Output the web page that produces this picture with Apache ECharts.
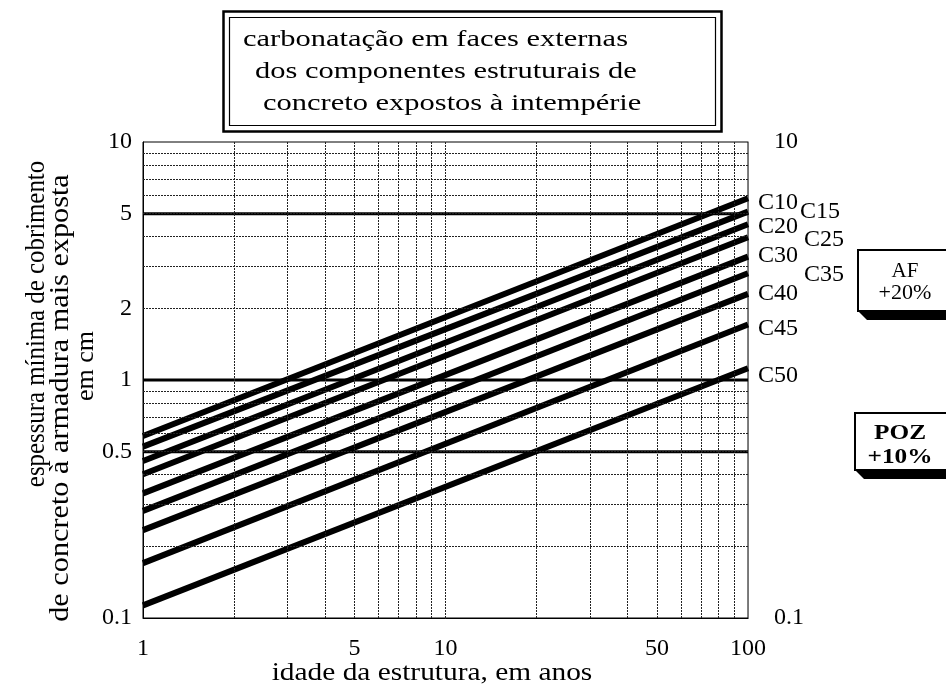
<!DOCTYPE html>
<html>
<head>
<meta charset="utf-8">
<script src="https://cdn.jsdelivr.net/npm/echarts@6/dist/echarts.min.js"></script>
<style>
html,body{margin:0;padding:0;background:#fff;}
#chart{width:946px;height:693px;}
</style>
</head>
<body>
<div id="chart"></div>
<script>
// ---- data ----
const years = [1, 100];
const seriesNames = ['C10','C15','C20','C25','C30','C35','C40','C45','C50'];
const valuesAt1Year   = [0.582, 0.525, 0.457, 0.402, 0.334, 0.282, 0.234, 0.170, 0.113];
const valuesAt100Years = [5.8, 5.1, 4.51, 3.98, 3.30, 2.81, 2.30, 1.71, 1.12];
const referenceLevels = [0.5, 1, 5];
const yGridValues = [0.2,0.3,0.4,0.5,0.6,0.7,0.8,0.9,2,3,4,5,6,7,8,9];
const xGridValues = [2,3,4,5,6,7,8,9,20,30,40,50,60,70,80,90];
const yExtraTickLabels = [0.5, 2, 5];
const xExtraTickLabels = [5, 50];
const rightTickLabels = [0.1, 10];
const titleLines = ['carbonatação em faces externas','dos componentes estruturais de','concreto expostos à intempérie'];
const yNameLines = ['espessura mínima de cobrimento','de concreto à armadura mais exposta','em cm'];
const xName = 'idade da estrutura, em anos';

// ---- presentation ----
const FONT = '"Liberation Serif", "Times New Roman", serif';
const TICK_FS = 24;
const labelOffsets = {C10:[10,4],C15:[52,0],C20:[10,2],C25:[56,2],C30:[10,-1],C35:[56,1],C40:[10,0],C45:[10,4],C50:[10,7]};

const chart = echarts.init(document.getElementById('chart'), null, {renderer:'canvas'});

function fmt(v){ return String(+Number(v).toPrecision(6)); }

const series = [];
// gridlines + extra tick labels through markLines on a helper series
series.push({
  type:'line', data:[], silent:true,
  markLine:{
    silent:true, symbol:['none','none'], animation:false,
    lineStyle:{type:[2,1], color:'#222', width:1},
    label:{show:false},
    data: yGridValues.map(v => ({
      yAxis:v,
      label: yExtraTickLabels.includes(v)
        ? {show:true, position:'start', distance:11, formatter:fmt(v), color:'#000', fontFamily:FONT, fontSize:TICK_FS}
        : {show:false}
    })).concat(xGridValues.map(v => ({
      xAxis:v,
      label: xExtraTickLabels.includes(v)
        ? {show:true, position:'start', distance:19, formatter:fmt(v), color:'#000', fontFamily:FONT, fontSize:TICK_FS}
        : {show:false}
    })))
  }
});
// horizontal reference lines
referenceLevels.forEach(v => {
  series.push({
    type:'line', silent:true, symbol:'none',
    data: years.map(x => [x, v]),
    lineStyle:{color:'#000', width:3}
  });
});
// class lines
seriesNames.forEach((name, i) => {
  series.push({
    name, type:'line', symbol:'none', silent:true,
    data: [[years[0], valuesAt1Year[i]], [years[1], valuesAt100Years[i]]],
    lineStyle:{color:'#000', width:6, cap:'butt'},
    endLabel:{show:true, formatter:name, distance:labelOffsets[name][0], offset:[0,labelOffsets[name][1]],
      color:'#000', fontFamily:FONT, fontSize:TICK_FS}
  });
});

const option = {
  animation:false,
  backgroundColor:'#fff',
  grid:{left:143, right:198, top:142, bottom:75, show:true, borderColor:'#000', borderWidth:1, backgroundColor:'transparent', outerBoundsMode:'none', containLabel:false},
  xAxis:{
    type:'log', logBase:10, min:1, max:100,
    axisLine:{show:true, lineStyle:{color:'#000', width:1}},
    axisTick:{show:false},
    splitLine:{show:true, lineStyle:{type:[2,1], color:'#222'}},
    minorTick:{show:false}, minorSplitLine:{show:false},
    axisLabel:{color:'#000', fontFamily:FONT, fontSize:TICK_FS, margin:19, formatter:v=>fmt(v)}
  },
  yAxis:[{
    type:'log', logBase:10, min:0.1, max:10,
    axisLine:{show:true, lineStyle:{color:'#000', width:1}},
    axisTick:{show:false},
    splitLine:{show:false},
    axisLabel:{color:'#000', fontFamily:FONT, fontSize:TICK_FS, margin:11, formatter:v=>fmt(v)}
  },{
    type:'log', logBase:10, min:0.1, max:10, position:'right',
    axisLine:{show:true, lineStyle:{color:'#777', width:1}},
    axisTick:{show:false},
    splitLine:{show:false},
    axisLabel:{color:'#000', fontFamily:FONT, fontSize:TICK_FS, margin:26,
      formatter:v => rightTickLabels.some(t => Math.abs(t - v) < 1e-9) ? fmt(v) : ''}
  }],
  series,
  graphic:[
    // title box
    {type:'rect', shape:{x:223.5, y:11.5, width:498, height:120}, style:{fill:'#fff', stroke:'#000', lineWidth:2.5}, z:10},
    {type:'rect', shape:{x:229.5, y:17.5, width:486, height:108}, style:{fill:'none', stroke:'#000', lineWidth:1.2}, z:11},
    {type:'text', x:243, y:40, scaleX:1.27, style:{text:titleLines[0], font:'24px '+FONT, fill:'#000', textAlign:'left', textVerticalAlign:'middle'}, z:12},
    {type:'text', x:255, y:72, scaleX:1.27, style:{text:titleLines[1], font:'24px '+FONT, fill:'#000', textAlign:'left', textVerticalAlign:'middle'}, z:12},
    {type:'text', x:263, y:104, scaleX:1.27, style:{text:titleLines[2], font:'24px '+FONT, fill:'#000', textAlign:'left', textVerticalAlign:'middle'}, z:12},
    // y axis name
    {type:'text', x:37, y:324, rotation:Math.PI/2, scaleX:0.92, style:{text:yNameLines[0], font:'27px '+FONT, fill:'#000', textAlign:'center', textVerticalAlign:'middle'}, z:12},
    {type:'text', x:61, y:398, rotation:Math.PI/2, scaleX:1.12, style:{text:yNameLines[1], font:'27px '+FONT, fill:'#000', textAlign:'center', textVerticalAlign:'middle'}, z:12},
    {type:'text', x:86, y:366, rotation:Math.PI/2, style:{text:yNameLines[2], font:'26px '+FONT, fill:'#000', textAlign:'center', textVerticalAlign:'middle'}, z:12},
    // x axis name
    {type:'text', x:432, y:673, scaleX:1.13, style:{text:xName, font:'26px '+FONT, fill:'#000', textAlign:'center', textVerticalAlign:'middle'}, z:12},
    // AF box
    {type:'polygon', shape:{points:[[858,311],[946,311],[946,320],[867,320]]}, style:{fill:'#000'}, z:10},
    {type:'rect', shape:{x:858, y:250, width:100, height:61}, style:{fill:'#fff', stroke:'#000', lineWidth:2}, z:11},
    {type:'text', x:905, y:271, style:{text:'AF', font:'21px '+FONT, fill:'#000', textAlign:'center', textVerticalAlign:'middle'}, z:12},
    {type:'text', x:905, y:293, scaleX:1.05, style:{text:'+20%', font:'21px '+FONT, fill:'#000', textAlign:'center', textVerticalAlign:'middle'}, z:12},
    // POZ box
    {type:'polygon', shape:{points:[[855,470],[946,470],[946,479],[864,479]]}, style:{fill:'#000'}, z:10},
    {type:'rect', shape:{x:855, y:413, width:100, height:57}, style:{fill:'#fff', stroke:'#000', lineWidth:2}, z:11},
    {type:'text', x:900, y:433, scaleX:1.15, style:{text:'POZ', font:'bold 22px '+FONT, fill:'#000', textAlign:'center', textVerticalAlign:'middle'}, z:12},
    {type:'text', x:900, y:457, scaleX:1.15, style:{text:'+10%', font:'bold 22px '+FONT, fill:'#000', textAlign:'center', textVerticalAlign:'middle'}, z:12}
  ]
};
chart.setOption(option);
</script>
</body>
</html>
